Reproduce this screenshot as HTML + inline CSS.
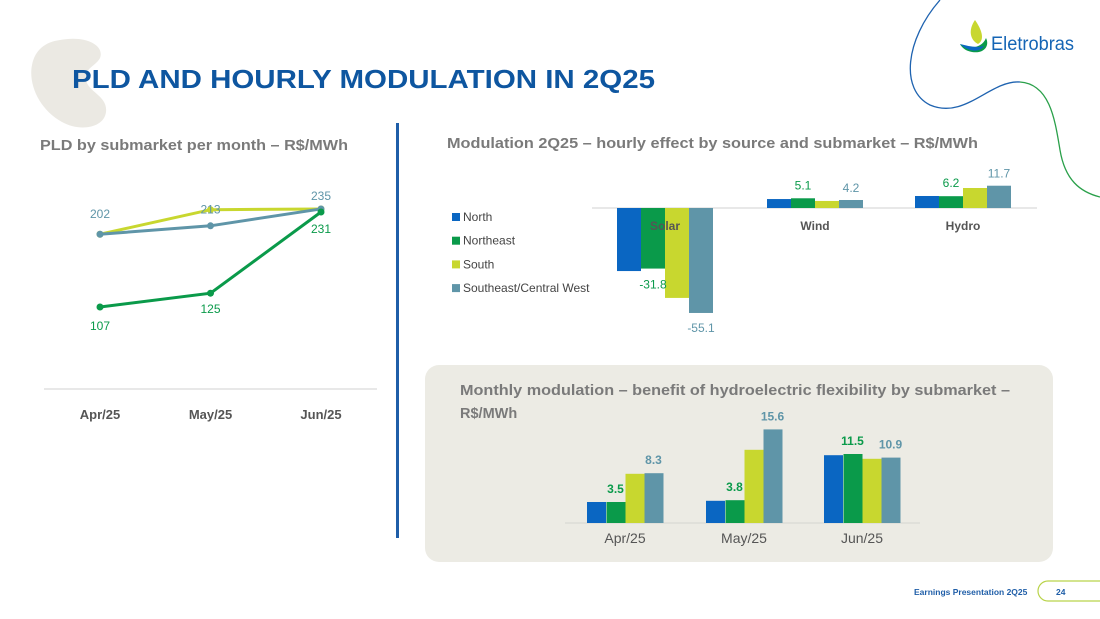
<!DOCTYPE html>
<html><head><meta charset="utf-8">
<style>
html,body{margin:0;padding:0;background:#fff;}
body{width:1100px;height:619px;overflow:hidden;position:relative;font-family:"Liberation Sans",sans-serif;}
svg{position:absolute;left:0;top:0;}
</style></head>
<body>
<svg id="s" width="1100" height="619" viewBox="0 0 1100 619" xmlns="http://www.w3.org/2000/svg" font-family="Liberation Sans, sans-serif">
  <path d="M60,40 C85,35 105,45 100,58 C96,66 84,68 86,80 C88,92 108,96 106,112 C104,128 80,132 62,122 C40,110 28,85 32,65 C35,50 45,42 60,40Z" fill="#ebe9e3"/>
  <path d="M940,0 C905,40 900,90 930,105 C965,120 990,80 1020,82" fill="none" stroke="#1f63b0" stroke-width="1.3"/>
  <path d="M1020,82 C1050,84 1055,120 1060,150 C1065,180 1080,192 1100,197" fill="none" stroke="#2aa04a" stroke-width="1.3"/>
  <g>
    <path d="M975,20 C968,30 970,40 978,44 C985,40 982,30 975,20Z" fill="#c8d72f"/>
    <path d="M960,44 C970,50 982,48 986,38 C990,46 984,54 972,52 C966,51 962,48 960,44Z" fill="#0a9a4a"/>
    <path d="M960,44 C968,46 976,48 984,46 C980,52 970,53 960,44Z" fill="#0a66c2"/>
    <text x="991" y="50" font-size="19" fill="#1565b5" textLength="83" lengthAdjust="spacingAndGlyphs">Eletrobras</text>
  </g>
  <text x="72" y="88" font-size="26" font-weight="bold" fill="#0e56a0" textLength="583" lengthAdjust="spacingAndGlyphs">PLD AND HOURLY MODULATION IN 2Q25</text>
  <text x="40" y="150" font-size="14.5" font-weight="bold" fill="#7a7a7a" textLength="308" lengthAdjust="spacingAndGlyphs">PLD by submarket per month – R$/MWh</text>
  <rect x="396" y="123" width="3" height="415" fill="#1f5ea8"/>
  <text x="447" y="148" font-size="14.5" font-weight="bold" fill="#7a7a7a" textLength="531" lengthAdjust="spacingAndGlyphs">Modulation 2Q25 – hourly effect by source and submarket – R$/MWh</text>
  <rect x="425" y="365" width="628" height="197" rx="14" fill="#ecebe4"/>
  <text font-size="14.5" font-weight="bold" fill="#7a7a7a"><tspan x="460" y="395" textLength="550" lengthAdjust="spacingAndGlyphs">Monthly modulation – benefit of hydroelectric flexibility by submarket –</tspan><tspan x="460" y="418">R$/MWh</tspan></text>
  <g id="line"></g><g id="hourly"></g><g id="monthly"></g>
  <text x="914" y="595" font-size="8.5" font-weight="bold" fill="#1f5ea8">Earnings Presentation 2Q25</text>
  <path d="M1100,581 L1048,581 A10,10 0 0 0 1048,601 L1100,601" fill="none" stroke="#b9d34a" stroke-width="1.2"/>
  <text x="1056" y="595" font-size="8.5" font-weight="bold" fill="#1f5ea8">24</text>
</svg>
<script>
const NS="http://www.w3.org/2000/svg";
function mk(p,tag,a,txt){const e=document.createElementNS(NS,tag);for(const k in a)e.setAttribute(k,a[k]);if(txt!==undefined)e.textContent=txt;p.appendChild(e);return e;}
// ---- PLD line chart data
const pldMonths=["Apr/25","May/25","Jun/25"];
const pldNortheast=[107,125,231];
const pldSouth=[202,234,235];
const pldSoutheast=[202,213,235];
// ---- Hourly modulation data
const sources=["Solar","Wind","Hydro"];
const submarkets=["North","Northeast","South","Southeast/Central West"];
const hourlyNorth=[-33.1,4.7,6.3];
const hourlyNortheast=[-31.8,5.1,6.2];
const hourlySouth=[-47.2,3.7,10.5];
const hourlySoutheast=[-55.1,4.2,11.7];
// ---- Monthly modulation data
const monthlyMonths=["Apr/25","May/25","Jun/25"];
const monthlyNorth=[3.5,3.7,11.3];
const monthlyNortheast=[3.5,3.8,11.5];
const monthlySouth=[8.2,12.2,10.7];
const monthlySoutheast=[8.3,15.6,10.9];
const colors=["#0a66c2","#0a9a4a","#c8d72f","#5f95a8"];

// Line chart
const L=document.getElementById('line');
const lx=i=>100+i*110.5, ly=v=>307-(v-107)*0.766;
let ax=mk(L,'line',{x1:44,x2:377,y1:389,y2:389,stroke:'#d0d0d0'});

pldMonths.forEach((m,i)=>{const t=mk(L,'text',{x:lx(i),y:419,'font-size':13,'font-weight':'bold','fill':'#555','text-anchor':'middle'},m);
});
function series(vals,col,name,w){const pts=vals.map((v,i)=>lx(i)+','+ly(v)).join(' ');
const p=mk(L,'polyline',{points:pts,fill:'none',stroke:col,'stroke-width':w});

vals.forEach((v,i)=>{const c=mk(L,'circle',{cx:lx(i),cy:ly(v),r:3.5,fill:col});});}
series(pldSouth,colors[2],'south',3);
series(pldSoutheast,colors[3],'southeast',3);
series(pldNortheast,colors[1],'northeast',3);
function lab(txt,x,y,col){const t=mk(L,'text',{x:x,y:y,'font-size':12,fill:col,'text-anchor':'middle'},txt);}
lab(pldSoutheast[0],lx(0),ly(pldSoutheast[0])-16,colors[3]);
lab(pldSoutheast[1],lx(1),ly(pldSouth[1])+4,colors[3]);
lab(pldSoutheast[2],lx(2),ly(pldSoutheast[2])-9,colors[3]);
lab(pldNortheast[0],lx(0),ly(pldNortheast[0])+23,colors[1]);
lab(pldNortheast[1],lx(1),ly(pldNortheast[1])+20,colors[1]);
lab(pldNortheast[2],lx(2),ly(pldNortheast[2])+21,colors[1]);

// Hourly chart
const H=document.getElementById('hourly');
const hBase=208, hs=1.905, hcx=[665,815,963], bw=24;
const hy=v=>hBase-v*hs;
const hAll=[hourlyNorth,hourlyNortheast,hourlySouth,hourlySoutheast];
const bl=mk(H,'line',{x1:592,x2:1037,y1:hBase,y2:hBase,stroke:'#d0d0d0'});

sources.forEach((s,i)=>{hAll.forEach((arr,k)=>{const v=arr[i];const x=hcx[i]-2*bw+k*bw;
const r=mk(H,'rect',{x:x,y:Math.min(hy(v),hBase),width:bw,height:Math.abs(v*hs),fill:colors[k]});
});
const t=mk(H,'text',{x:hcx[i],y:230,'font-size':12,'font-weight':'bold',fill:'#555','text-anchor':'middle'},s);
});
function hl(txt,x,y,col){const t=mk(H,'text',{x:x,y:y,'font-size':12,fill:col,'text-anchor':'middle'},txt);}
hl(hourlyNortheast[0],hcx[0]-12,hy(hourlyNortheast[0])+20,colors[1]);
hl(hourlySoutheast[0],hcx[0]+36,hy(hourlySoutheast[0])+19,colors[3]);
[1,2].forEach(i=>{hl(hourlyNortheast[i],hcx[i]-12,hy(hourlyNortheast[i])-9,colors[1]);hl(hourlySoutheast[i],hcx[i]+36,hy(hourlySoutheast[i])-8,colors[3]);});
submarkets.forEach((s,k)=>{const y=217+k*23.7;
const r=mk(H,'rect',{x:452,y:y-4,width:8,height:8,fill:colors[k]});
const t=mk(H,'text',{x:463,y:y+4,'font-size':12,fill:'#444'},s);});

// Monthly chart
const M=document.getElementById('monthly');
const mBase=523, ms=6.0, mcx=[625,744,862], mw=19;
const my=v=>mBase-v*ms;
const mAll=[monthlyNorth,monthlyNortheast,monthlySouth,monthlySoutheast];
const ml=mk(M,'line',{x1:565,x2:920,y1:mBase,y2:mBase,stroke:'#d5d5d0'});

monthlyMonths.forEach((m,i)=>{mAll.forEach((arr,k)=>{const v=arr[i];const x=mcx[i]-2*mw+k*mw+(k>0?0.5:0);
const r=mk(M,'rect',{x:x,y:my(v),width:mw,height:v*ms,fill:colors[k]});
});
const t=mk(M,'text',{x:mcx[i],y:543,'font-size':14,fill:'#555','text-anchor':'middle'},m);

const a=mk(M,'text',{x:mcx[i]-mw/2,y:my(monthlyNortheast[i])-9,'font-size':12,'font-weight':'bold',fill:colors[1],'text-anchor':'middle'},monthlyNortheast[i]);

const b=mk(M,'text',{x:mcx[i]+mw*1.5,y:my(monthlySoutheast[i])-9,'font-size':12,'font-weight':'bold',fill:colors[3],'text-anchor':'middle'},monthlySoutheast[i]);
});
</script>
</body></html>
